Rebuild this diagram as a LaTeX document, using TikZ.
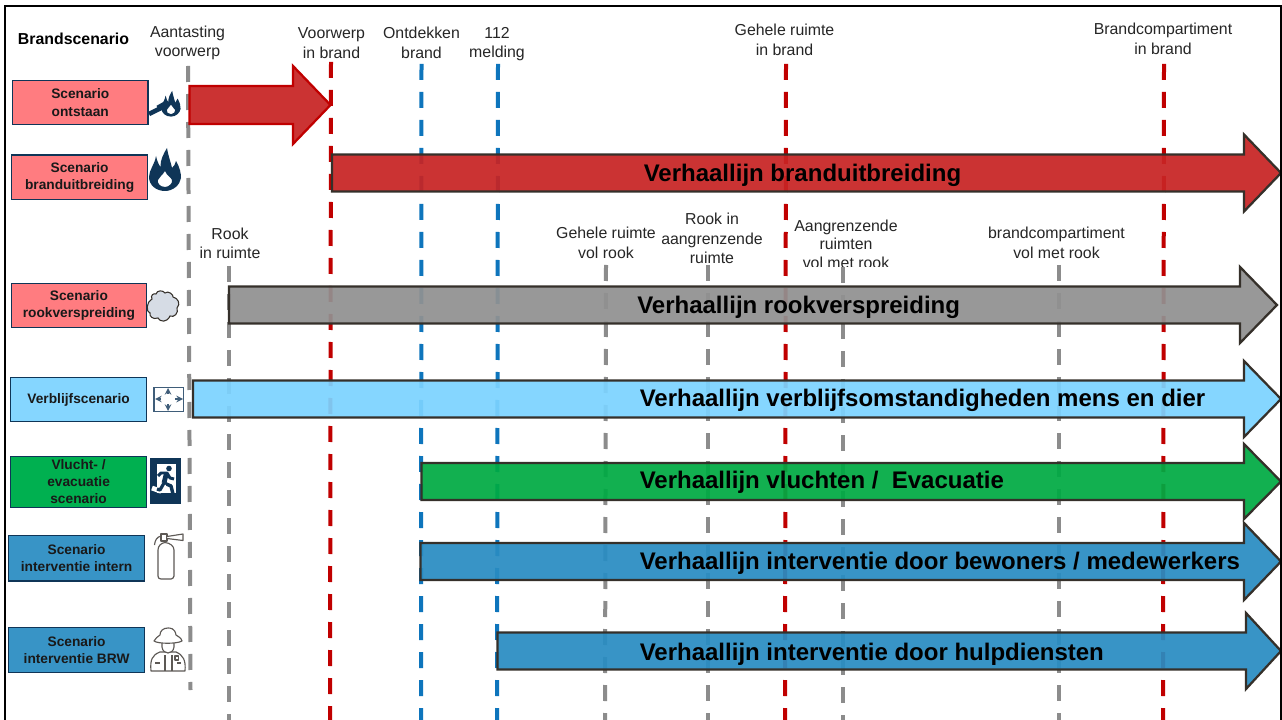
\documentclass[tikz,border=0pt]{standalone}
\usepackage{fontspec}
\setmainfont{Liberation Sans}
\definecolor{navy}{HTML}{0F3557}
\definecolor{redfill}{HTML}{C82424}
\definecolor{redline}{HTML}{C00000}
\definecolor{darkedge}{HTML}{35302A}
\definecolor{pinkbox}{HTML}{FF7C80}
\definecolor{skybox}{HTML}{85D6FF}
\definecolor{skyfill}{HTML}{7CD3FF}
\definecolor{greenbox}{HTML}{00B050}
\definecolor{greenfill}{HTML}{00AA43}
\definecolor{bluebox}{HTML}{3894C6}
\definecolor{bluefill}{HTML}{298CC2}
\definecolor{greyfill}{HTML}{919191}
\definecolor{dashgrey}{HTML}{8C8C8C}
\definecolor{dashblue}{HTML}{0E75BC}
\definecolor{dashred}{HTML}{C00000}
\definecolor{cloudfill}{HTML}{D6DCE5}
\tikzset{
  x=0.75pt,y=-0.75pt,
  lab/.style={font=\fontsize{11.9}{14.6}\selectfont,align=center,text=black!85,inner sep=0pt},
  scen/.style={draw=navy,line width=0.9pt,anchor=north west,font=\bfseries\fontsize{10.3}{12.8}\selectfont,align=center,text=black!90,inner sep=0pt},
  story/.style={font=\bfseries\fontsize{18}{20}\selectfont,anchor=west,inner sep=0pt,text=black},
  tl/.style={line width=3pt,dash pattern=on 12pt off 9pt},
  tlgrey/.style={tl,draw=dashgrey},
  tlblue/.style={tl,draw=dashblue},
  tlred/.style={tl,draw=dashred},
  arrowbody/.style={line width=1.7pt,draw=darkedge,line join=miter,fill opacity=0.93},
  icon/.style={draw=darkedge!80,line width=0.85pt,fill=white,line join=round},
}
% #1 style options, #2 x start, #3 head base x, #4 tip x, #5 centre y, #6 half body, #7 half head
\newcommand{\storyarrow}[7]{%
  \draw[arrowbody,#1] (#2,#5-#6) -- (#3,#5-#6) -- (#3,#5-#7) -- (#4,#5) -- (#3,#5+#7) -- (#3,#5+#6) -- (#2,#5+#6) -- cycle;}
\newcommand{\flame}[3]{% x y scale
  \begin{scope}[shift={(#1,#2)},scale=#3]
  \fill[navy,even odd rule] (0,21) .. controls (-9,21) and (-16,15) .. (-16,7) .. controls (-16,0) and (-10,-6) .. (-9,-14)
   .. controls (-8,-9) and (-6,-5) .. (-4.5,-3) .. controls (-5,-10) and (-1,-17) .. (2,-22)
   .. controls (3,-15) and (6,-7) .. (7,-2) .. controls (9,-4) and (10.5,-6) .. (11,-9)
   .. controls (15,-2) and (16,3) .. (16,8) .. controls (15,15) and (8,21) .. (0,21) -- cycle
   (0,17) .. controls (-5,17) and (-8,13) .. (-7,10) .. controls (-6,7) and (-3,6) .. (0,1)
   .. controls (2,6) and (6,7) .. (7,10) .. controls (8,13) and (4,17) .. (0,17) -- cycle;
  \end{scope}}
\begin{document}
\begin{tikzpicture}
\useasboundingbox (0,0) rectangle (1282,720);
\fill[white] (0,0) rectangle (1282,720);
% top labels
\node[font=\bfseries\fontsize{11.9}{14}\selectfont,text=black,inner sep=0pt] (brandhead) at (73.5,38.5) {Brandscenario};
\node[lab] (t1) at (187.5,43) {Aantasting\\voorwerp};
\node[lab] (t2) at (331.5,43) {Voorwerp\\in brand};
\node[lab] (t3) at (421.5,43) {Ontdekken\\brand};
\node[lab] (t4) at (497,44) {112\\melding};
\node[lab] (t5) at (784.5,40) {Gehele ruimte\\in brand};
\node[lab] (t6) at (1163,39) {Brandcompartiment\\in brand};
% smoke labels
\node[lab] (r1) at (230,243.5) {Rook\\in ruimte};
\node[lab] (r2) at (606,243) {Gehele ruimte\\vol rook};
\node[lab] (r3) at (712,238.5) {Rook in\\aangrenzende\\ruimte};
\node[lab,font=\fontsize{11.9}{14}\selectfont] (r4) at (846,244) {Aangrenzende\\ruimten\\vol met rook};
\fill[white] (795,267.5) rectangle (895,282);
\node[lab] (r5) at (1056.5,243) {brandcompartiment\\vol met rook};
% time lines
\coordinate (a1) at (188,66); \coordinate (b1) at (190.5,690);
\coordinate (a2) at (229,266); \coordinate (b2) at (229,720);
\coordinate (a3) at (331,62); \coordinate (b3) at (330,720);
\coordinate (a4) at (421.5,64); \coordinate (b4) at (421,720);
\coordinate (a5) at (498,64); \coordinate (b5) at (497,720);
\coordinate (a6) at (606,265); \coordinate (b6) at (605,720);
\coordinate (a7) at (708,265); \coordinate (b7) at (708,720);
\coordinate (a8) at (786,64); \coordinate (b8) at (785,720);
\coordinate (a9) at (842.5,267); \coordinate (b9) at (842.5,720);
\coordinate (a10) at (1059,265); \coordinate (b10) at (1059,720);
\coordinate (a11) at (1164,64); \coordinate (b11) at (1163,720);
\draw[tlgrey] (a1) -- (b1);
\draw[tlgrey] (a2) -- (b2);
\draw[tlred] (a3) -- (b3);
\draw[tlblue] (a4) -- (b4);
\draw[tlblue] (a5) -- (b5);
\draw[tlgrey] (a6) -- (b6);
\draw[tlgrey] (a7) -- (b7);
\draw[tlred] (a8) -- (b8);
\draw[tlgrey] (a9) -- (b9);
\draw[tlgrey] (a10) -- (b10);
\draw[tlred] (a11) -- (b11);
% story arrows
\storyarrow{fill=redfill,draw=redline}{189.5}{293}{330.5}{105}{19}{39}
\storyarrow{fill=redfill}{332}{1244}{1281}{173}{18.5}{38.5}
\storyarrow{fill=greyfill}{229}{1240}{1277}{305}{18.5}{38}
\storyarrow{fill=skyfill}{193}{1244}{1281}{399}{18.5}{38}
\storyarrow{fill=greenfill}{421.5}{1244}{1281}{481.5}{18.5}{37.5}
\storyarrow{fill=bluefill}{420.5}{1244}{1281}{561.5}{18.5}{38.5}
\storyarrow{fill=bluefill}{497.5}{1246}{1281}{651}{18.5}{38}
\node[story] (s1) at (643.5,175.5) {Verhaallijn branduitbreiding};
\node[story] (s2) at (637,307) {Verhaallijn rookverspreiding};
\node[story] (s3) at (639.5,400) {Verhaallijn verblijfsomstandigheden mens en dier};
\node[story] (s4) at (639.5,482) {Verhaallijn vluchten /\ \ Evacuatie};
\node[story] (s5) at (639.5,563) {Verhaallijn interventie door bewoners / medewerkers};
\node[story] (s6) at (639.5,654) {Verhaallijn interventie door hulpdiensten};
% scenario boxes
\node[scen,fill=pinkbox,minimum width=101.5pt,minimum height=33pt] (b-ont) at (12,80) {Scenario\\ontstaan};
\node[scen,fill=pinkbox,minimum width=102pt,minimum height=33.5pt] (b-bra) at (11,154.5) {Scenario\\branduitbreiding};
\node[scen,fill=pinkbox,minimum width=101pt,minimum height=33pt] (b-rook) at (11,283) {Scenario\\rookverspreiding};
\node[scen,fill=skybox,minimum width=102pt,minimum height=33pt] (b-ver) at (10,377) {Verblijfscenario};
\node[scen,fill=greenbox,minimum width=102pt,minimum height=38pt] (b-vlu) at (10,456) {Vlucht- /\\evacuatie\\scenario};
\node[scen,fill=bluebox,minimum width=102pt,minimum height=34pt] (b-int) at (8,535) {Scenario\\interventie intern};
\node[scen,fill=bluebox,minimum width=102pt,minimum height=34pt] (b-brw) at (8,626.5) {Scenario\\interventie BRW};
% icon: match and flame
\flame{171}{104}{0.6}
\draw[navy,line width=3.4pt] (149,114) -- (167,105);
\draw[navy,line width=4.6pt] (158,108.5) -- (166,104);
% icon: fire
\flame{165}{170}{1}
% icon: cloud
\begin{scope}[yshift=-1.5pt]
\draw[darkedge,line width=0.8pt,fill=cloudfill]
 (152,297) .. controls (150,293) and (154,291) .. (156,292)
 .. controls (157,288) and (163,288) .. (165,291)
 .. controls (168,288) and (174,293) .. (173,295)
 .. controls (178,296) and (181,302) .. (177,306)
 .. controls (179,311) and (174,316) .. (170,314)
 .. controls (167,321) and (160,320) .. (158,316)
 .. controls (153,318) and (149,314) .. (150,311)
 .. controls (146,310) and (146,300) .. (152,297) -- cycle;
\end{scope}
% icon: compartment
\draw[navy!80,line width=1.2pt,fill=white] (154,387.5) rectangle (183.5,411.5);
\draw[navy!80,line width=1.2pt,-stealth] (168,394) -- (168,388);
\draw[navy!80,line width=1.2pt,-stealth] (168,404) -- (168,411);
\draw[navy!80,line width=1.2pt,-stealth] (161,399) -- (155,399);
\draw[navy!80,line width=1.2pt,-stealth] (175,399) -- (183,399);
% icon: exit
\fill[navy] (150,458) rectangle (181,504);
\fill[white] (157,464) rectangle (176,493);
\fill[navy] (169,468.5) circle (2.8);
\draw[navy,line width=2.2pt,line join=round] (158,476) -- (161,473) -- (167,473) -- (170,478) -- (174,479);
\draw[navy,line width=3.6pt] (166.5,473) -- (164,483);
\draw[navy,line width=2.6pt,line join=round] (164,483) -- (171,486) -- (173,494);
\draw[white,line width=3.6pt,line join=round] (164,484) -- (160,491) -- (152,488);
\draw[navy,line width=2.4pt,line join=round] (164,483) -- (160,490) -- (157,489);
% icon: extinguisher
\draw[icon] (158,550) .. controls (158,546) and (161,543) .. (165,542.5) .. controls (170,543) and (174,546) .. (174,550) -- (174,576) .. controls (174,578) and (172,579) .. (171,579) -- (161,579) .. controls (159,579) and (158,578) .. (158,576) -- cycle;
\draw[icon] (161,534) rectangle (167,541);
\draw[icon] (167,536.5) -- (183,534) -- (183,540.5) -- (167,538.5);
\draw[icon,fill=none] (161,536) .. controls (157,537) and (155,540) .. (154.5,545);
% icon: firefighter
\draw[icon] (151,671) .. controls (150,660) and (152,655) .. (160,652) -- (176,652) .. controls (183,655) and (186,660) .. (185,671) -- cycle;
\draw[icon] (162,641) -- (162,647) .. controls (163,655) and (173,655) .. (174,647) -- (174,641) -- cycle;
\draw[icon] (154,641) .. controls (158,644) and (177,644) .. (182,641) .. controls (181,637) and (178,637) .. (176,635) .. controls (175,628) and (170,628) .. (168,628) .. controls (163,628) and (160,631) .. (160,635) .. controls (158,637) and (155,638) .. (154,641) -- cycle;
\draw[icon,fill=none] (165,655) -- (165,671) (172,655) -- (172,671) (155,663) -- (160,663) (177,663) -- (181,663);
\draw[icon,fill=none] (175,656) rectangle (178.5,660);
% frame
\draw[black,line width=1.5pt] (5,720) -- (5,6) -- (1281,6) -- (1281,720);
\end{tikzpicture}
\end{document}
